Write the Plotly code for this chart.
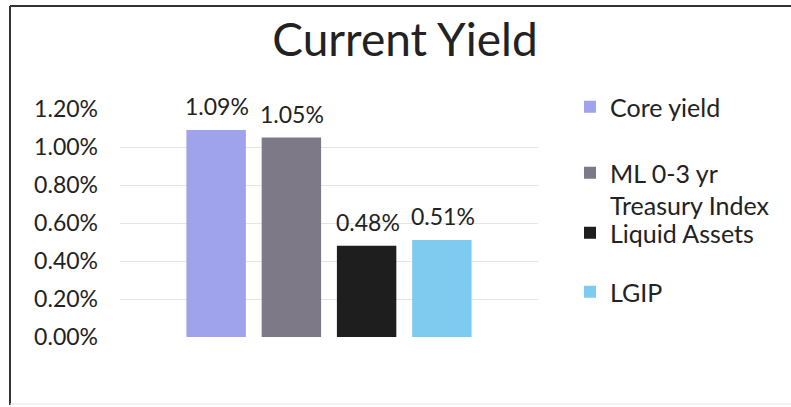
import plotly.graph_objects as go

series = ["Core yield", "ML 0-3 yr<br>Treasury Index", "Liquid Assets", "LGIP"]
values = [1.09, 1.05, 0.48, 0.51]
colors = ["#9ea3ec", "#7e7986", "#1e1e1e", "#7ecbef"]
category = ["Current Yield"]
y_ticks = [0, 0.2, 0.4, 0.6, 0.8, 1.0, 1.2]
y_tick_labels = ["0.00%", "0.20%", "0.40%", "0.60%", "0.80%", "1.00%", "1.20%"]

FONT = "Lato, Open Sans, sans-serif"
W, H = 791, 407
L, R, T, B = 120, 253, 109, 70
pw = W - L - R
ph = H - T - B


def px(xp):
    return (xp - L) / pw


def py(yp):
    return (H - B - yp) / ph


legend_names = ["legend", "legend2", "legend3", "legend4"]
legend_y = [107, 189, 233, 292]

fig = go.Figure()
for i, (name, v, c) in enumerate(zip(series, values, colors)):
    fig.add_trace(go.Bar(
        x=category, y=[v], name=name, marker=dict(color=c, line=dict(width=0)),
        legend=legend_names[i], hoverinfo="skip",
    ))

bargap = 0.28
bargroupgap = 0.21
slot = pw * (1 - bargap) / len(series)
annotations = []
for i, v in enumerate(values):
    annotations.append(dict(
        x=category[0], y=v, xref="x", yref="y", text=f"{v:.2f}%",
        showarrow=False, yanchor="middle", yshift=24,
        xshift=(i - (len(series) - 1) / 2) * slot + 1,
        font=dict(family=FONT, size=23, color="#222222"),
    ))

shapes = [
    dict(type="line", xref="paper", yref="paper", x0=px(10), x1=px(791), y0=py(6), y1=py(6),
         line=dict(color="#333333", width=2)),
    dict(type="line", xref="paper", yref="paper", x0=px(10), x1=px(10), y0=py(6), y1=py(405),
         line=dict(color="#333333", width=2)),
    dict(type="line", xref="paper", yref="paper", x0=px(10), x1=px(791), y0=py(404), y1=py(404),
         line=dict(color="#e6e6e6", width=1)),
]

layout_legends = {}
for i, ln in enumerate(legend_names):
    layout_legends[ln] = dict(
        x=px(570), y=py(legend_y[i]), xanchor="left", yanchor="middle",
        bgcolor="rgba(0,0,0,0)", valign="top",
        font=dict(family=FONT, size=25, color="#222222"),
        itemwidth=30,
    )

fig.update_layout(
    width=W, height=H,
    margin=dict(l=L, r=R, t=T, b=B, autoexpand=False),
    paper_bgcolor="white", plot_bgcolor="white",
    barmode="group", bargap=bargap, bargroupgap=bargroupgap,
    title=dict(text="Current Yield", x=405 / W, xanchor="center", y=1 - 40 / H, yanchor="middle",
               font=dict(family=FONT, size=46, color="#222222")),
    font=dict(family=FONT, size=23, color="#222222"),
    xaxis=dict(showticklabels=False, showgrid=False, zeroline=False, showline=False,
               range=[-0.5, 0.5]),
    yaxis=dict(range=[0, 1.2], tickvals=y_ticks, ticktext=y_tick_labels, showgrid=True,
               gridcolor="#e4e4e4", gridwidth=1, zeroline=False, showline=False, ticks="",
               ticklabelstandoff=21, tickfont=dict(family=FONT, size=23, color="#222222")),
    showlegend=True,
    annotations=annotations,
    shapes=shapes,
    **layout_legends,
)

fig.write_html("out.html", post_script="document.body.style.margin='0';",
               config={"displayModeBar": False})
